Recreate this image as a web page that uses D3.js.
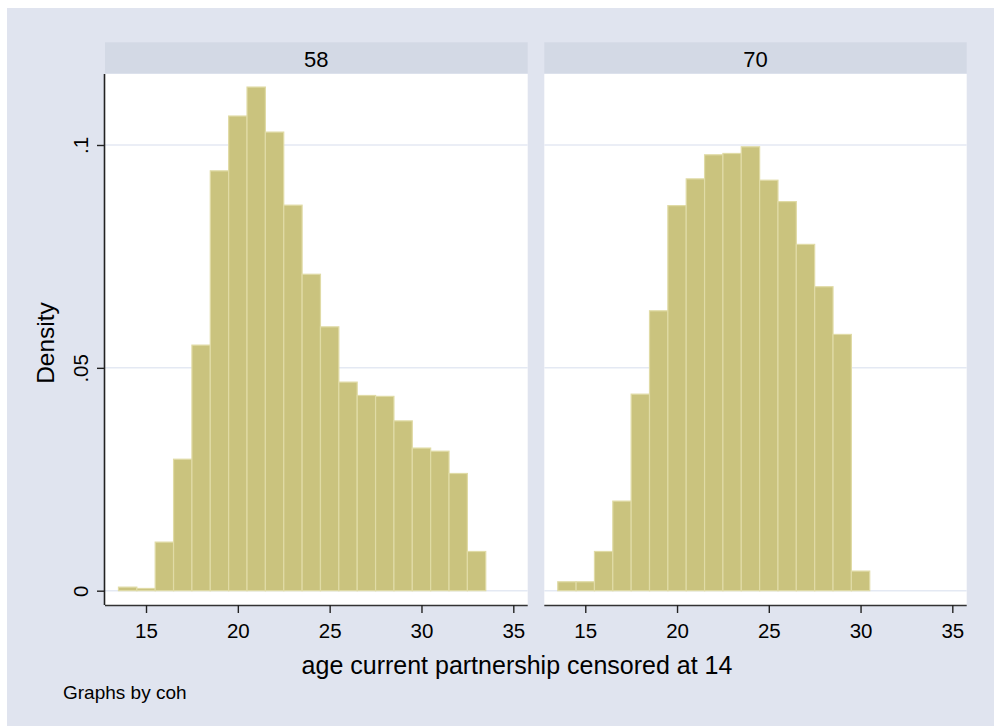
<!DOCTYPE html>
<html>
<head>
<meta charset="utf-8">
<script src="https://cdn.jsdelivr.net/npm/d3@7"></script>
<style>
  html, body { margin: 0; padding: 0; background: #ffffff; }
  svg { display: block; }
  text { font-family: "Liberation Sans", Arial, sans-serif; fill: #000; }
</style>
</head>
<body>
<svg id="chart" width="994" height="726"></svg>
<script>
// ---- data ----
const panels = ["58", "70"];
const binStart = 13.5;
const binWidth = 1;
const density58 = [0.0008, 0.0005, 0.0109, 0.0295, 0.0551, 0.0942, 0.1065, 0.1130, 0.1029, 0.0865,
                   0.0710, 0.0592, 0.0468, 0.0438, 0.0436, 0.0381, 0.0320, 0.0313, 0.0263, 0.0088];
const density70 = [0.0020, 0.0020, 0.0088, 0.0201, 0.0441, 0.0628, 0.0864, 0.0924, 0.0978, 0.0981,
                   0.0996, 0.0921, 0.0873, 0.0777, 0.0682, 0.0575, 0.0044];
const xTicks = [15, 20, 25, 30, 35];
const yTicks = [0, 0.05, 0.1];
const yTickLabels = ["0", ".05", ".1"];
const xTitle = "age current partnership censored at 14";
const yTitle = "Density";
const note = "Graphs by coh";

// ---- layout ----
const svg = d3.select("#chart");
const bg = "#e0e4ef";
svg.append("rect").attr("x", 7).attr("y", 8).attr("width", 987).attr("height", 718).attr("fill", bg);

const plotTop = 74, plotBottom = 605;
const headerTop = 42.3;
const panelX = [[105, 527.7], [544.3, 966.7]];
const y = d3.scaleLinear().domain([-0.00321, 0.11593]).range([plotBottom, plotTop]);

const seriesList = [density58, density70];
const tickFont = "20.5px";

panels.forEach((name, pi) => {
  const [x0, x1] = panelX[pi];
  const x = d3.scaleLinear().domain([12.767, 35.784]).range([x0, x1]);
  const g = svg.append("g");

  // header strip
  g.append("rect").attr("x", x0).attr("y", headerTop).attr("width", x1 - x0)
    .attr("height", plotTop - headerTop - 0.7).attr("fill", "#d3d9e5");
  g.append("text").attr("x", (x0 + x1) / 2).attr("y", (headerTop + plotTop) / 2 + 1)
    .attr("text-anchor", "middle").attr("dominant-baseline", "central")
    .style("font-size", "22px").text(name);

  // plot region
  g.append("rect").attr("x", x0).attr("y", plotTop).attr("width", x1 - x0)
    .attr("height", plotBottom - plotTop).attr("fill", "#ffffff");

  // grid lines
  g.selectAll("line.grid").data(yTicks).enter().append("line")
    .attr("x1", x0).attr("x2", x1)
    .attr("y1", d => y(d)).attr("y2", d => y(d))
    .attr("stroke", "#e4e9f3").attr("stroke-width", 1.5);

  // bars
  const data = seriesList[pi].map((v, i) => ({ lo: binStart + i * binWidth, hi: binStart + (i + 1) * binWidth, v }));
  g.selectAll("rect.bar").data(data).enter().append("rect")
    .attr("x", d => x(d.lo)).attr("width", d => x(d.hi) - x(d.lo))
    .attr("y", d => y(d.v)).attr("height", d => y(0) - y(d.v))
    .attr("fill", "#cac37e").attr("stroke", "#e0dba6").attr("stroke-width", 1.2);

  // x axis
  const xAxis = d3.axisBottom(x).tickValues(xTicks).tickSize(8).tickPadding(10).tickFormat(d3.format("d"));
  const ax = g.append("g").attr("transform", `translate(0,${plotBottom})`).call(xAxis);
  ax.attr("font-size", null).attr("font-family", null);
  ax.select(".domain").attr("d", `M${x0},0.5H${x1}`).attr("stroke", "#333").attr("stroke-width", 1.6);
  ax.selectAll(".tick line").attr("stroke", "#222").attr("stroke-width", 1.4);
  ax.selectAll(".tick text").style("font-size", tickFont).style("font-family", "Liberation Sans, Arial, sans-serif").attr("fill", "#000");

  // y axis (first panel only)
  if (pi === 0) {
    const yAxis = d3.axisLeft(y).tickValues(yTicks).tickSize(8).tickFormat((d, i) => yTickLabels[i]);
    const ay = g.append("g").attr("transform", `translate(${x0},0)`).call(yAxis);
    ay.attr("font-size", null).attr("font-family", null);
    ay.select(".domain").attr("d", `M-0.5,${plotTop}V${plotBottom}`).attr("stroke", "#222").attr("stroke-width", 1.6);
    ay.selectAll(".tick line").attr("stroke", "#222").attr("stroke-width", 1.4);
    ay.selectAll(".tick text")
      .attr("x", null)
      .attr("text-anchor", "middle")
      .attr("transform", "translate(-24,0) rotate(-90)")
      .attr("dy", "0.35em")
      .style("font-size", tickFont).style("font-family", "Liberation Sans, Arial, sans-serif").attr("fill", "#000");
  }
});

// titles
svg.append("text").attr("transform", `translate(45,343) rotate(-90)`)
  .attr("text-anchor", "middle").attr("dominant-baseline", "central")
  .style("font-size", "24.5px").text(yTitle);

svg.append("text").attr("x", 517).attr("y", 665)
  .attr("text-anchor", "middle").attr("dominant-baseline", "central")
  .style("font-size", "25px").text(xTitle);

svg.append("text").attr("x", 63).attr("y", 692)
  .attr("dominant-baseline", "central")
  .style("font-size", "19px").text(note);
</script>
</body>
</html>
